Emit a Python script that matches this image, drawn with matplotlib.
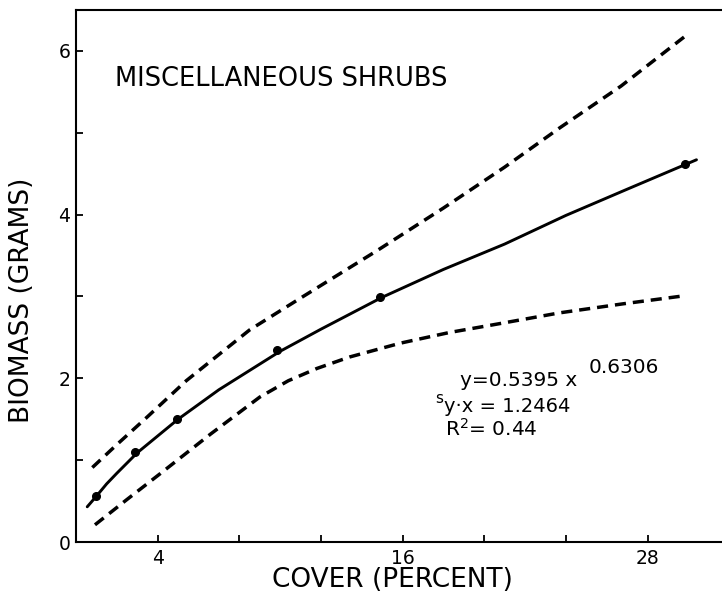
import matplotlib
matplotlib.use("Agg")
import matplotlib.pyplot as plt

# values
point_x = [1.0, 2.9, 4.95, 9.85, 14.9, 29.85]
point_y = [0.56, 1.10, 1.50, 2.34, 2.99, 4.62]

fit_x = [0.55, 1.0, 1.5, 2.0, 3.0, 5.0, 7.0, 10.0, 12.0, 15.0, 18.0, 21.0, 24.0, 27.0, 30.4]
fit_y = [0.43, 0.56, 0.71, 0.84, 1.09, 1.50, 1.86, 2.33, 2.60, 2.99, 3.33, 3.64, 3.99, 4.31, 4.67]

upper_x = [0.8, 2.0, 3.5, 5.4, 8.5, 11.0, 14.75, 18.0, 21.0, 23.7, 26.7, 30.0]
upper_y = [0.91, 1.19, 1.53, 1.97, 2.59, 2.98, 3.56, 4.08, 4.58, 5.06, 5.57, 6.21]

lower_x = [0.93, 2.5, 4.1, 6.6, 9.0, 10.4, 11.8, 13.4, 15.9, 18.3, 20.8, 23.7, 26.8, 29.85]
lower_y = [0.21, 0.52, 0.83, 1.32, 1.77, 1.97, 2.12, 2.26, 2.43, 2.56, 2.67, 2.80, 2.91, 3.01]

x_major = [4, 16, 28]
x_minor = [8, 12, 20, 24]
y_major = [0, 2, 4, 6]
y_minor = [1, 3, 5]

plt.rcParams['font.family'] = ['DejaVu Sans']

fig = plt.figure(figsize=(7.22, 5.98), dpi=100)
ax = fig.add_axes([76 / 722, 56 / 598, 646 / 722, 532 / 598])

ax.plot(fit_x, fit_y, color='black', linewidth=2.1, solid_capstyle='round')
ax.plot(upper_x, upper_y, color='black', linewidth=2.5, linestyle=(0, (3.2, 2.0)))
ax.plot(lower_x, lower_y, color='black', linewidth=2.5, linestyle=(0, (3.2, 2.0)))
ax.plot(point_x, point_y, 'o', color='black', markersize=5.5)

ax.set_xlim(0, 31.65)
ax.set_ylim(0, 6.5)

ax.set_xticks(x_major)
ax.set_xticks(x_minor, minor=True)
ax.set_yticks(y_major)
ax.set_yticks(y_minor, minor=True)
ax.tick_params(axis='both', which='both', direction='in', length=5, width=1.3,
               labelsize=13.5, color='black')
ax.tick_params(axis='x', which='both', pad=5, top=False)
ax.tick_params(axis='y', which='both', pad=4, right=False)

ax.spines['right'].set_visible(False)
for s in ['left', 'top', 'bottom']:
    ax.spines[s].set_linewidth(1.5)

# labels
fig.text(392 / 722, 1 - 580 / 598, "COVER (PERCENT)", ha='center', va='center', fontsize=19)
fig.text(22 / 722, 1 - 300 / 598, "BIOMASS (GRAMS)", ha='center', va='center',
         rotation=90, fontsize=19)

ax.text(1.9, 5.66, "MISCELLANEOUS SHRUBS", ha='left', va='center', fontsize=18.5)

# regression annotations
ax.text(18.8, 1.91, "y=0.5395 x", ha='left', va='baseline', fontsize=14.5)
ax.text(25.1, 2.07, "0.6306", ha='left', va='baseline', fontsize=14.5)
ax.text(17.6, 1.70, "s", ha='left', va='baseline', fontsize=11)
ax.text(18.05, 1.585, "y\u00b7x = 1.2464", ha='left', va='baseline', fontsize=14)
ax.text(18.1, 1.30, "R$^2$= 0.44", ha='left', va='baseline', fontsize=14.5)

fig.savefig("out.png", dpi=100, facecolor='white')
